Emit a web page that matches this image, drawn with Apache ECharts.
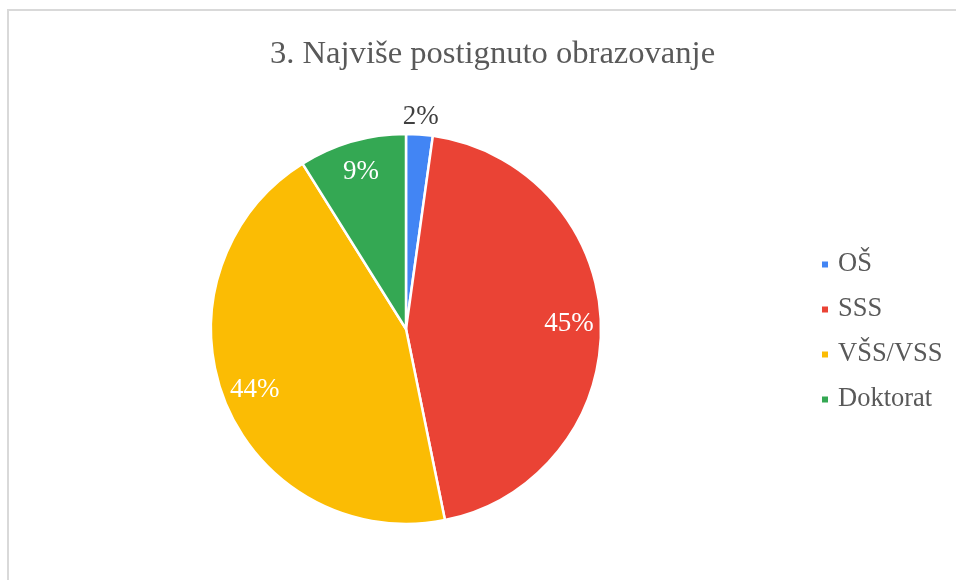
<!DOCTYPE html>
<html>
<head>
<meta charset="utf-8">
<title>3. Najviše postignuto obrazovanje</title>
<script src="https://cdn.jsdelivr.net/npm/echarts@6/dist/echarts.min.js"></script>
<style>
  html, body { margin: 0; padding: 0; background: #fff; }
  #frame { position: absolute; left: 7px; top: 9px; right: 0; bottom: 0;
           border-left: 2px solid #d9d9d9; border-top: 2px solid #d9d9d9; }
  #main { position: absolute; left: 0; top: 0; width: 956px; height: 580px; }
</style>
</head>
<body>
<div id="frame"></div>
<div id="main"></div>
<script>
// podaci
var categories = ['OŠ', 'SSS', 'VŠS/VSS', 'Doktorat'];
var shares = [2.2, 44.6, 44.3, 8.9];
var colors = ['#4285F4', '#EA4335', '#FBBC04', '#34A853'];

var font = "'Liberation Serif', 'Times New Roman', serif";
var center = [406, 329];

function pct(p) { return Math.round(p.percent) + '%'; }

var pieData = categories.map(function (name, i) {
    return { name: name, value: shares[i], itemStyle: { color: colors[i] } };
});

// prsten samo za natpise unutar kriški
var innerLabels = categories.map(function (name, i) {
    return { name: name, value: shares[i], label: { show: i !== 0 } };
});
// natpis za malu krišku (izvan)
var outerLabels = categories.map(function (name, i) {
    return { name: name, value: shares[i], label: { show: i === 0 } };
});

var myChart = echarts.init(document.getElementById('main'));
myChart.setOption({
    animation: false,
    title: {
        text: '3. Najviše postignuto obrazovanje',
        left: 265,
        top: 33,
        textStyle: { fontFamily: font, fontSize: 32.6, fontWeight: 'normal', color: '#595959' }
    },
    legend: {
        orient: 'vertical',
        left: 815,
        top: 246,
        itemWidth: 8,
        itemHeight: 8,
        itemGap: 18,
        icon: 'rect',
        data: categories,
        textStyle: { fontFamily: font, fontSize: 26.5, color: '#595959', lineHeight: 26, padding: [0, 0, 0, 4] }
    },
    series: [{
        type: 'pie',
        center: center,
        radius: 195,
        data: pieData,
        label: { show: false },
        labelLine: { show: false },
        itemStyle: { borderColor: '#fff', borderWidth: 2.5 },
        emphasis: { disabled: true }
    }, {
        type: 'pie',
        silent: true,
        center: center,
        radius: [125, 195],
        data: innerLabels,
        itemStyle: { color: 'transparent' },
        label: { position: 'inside', formatter: pct, fontFamily: font, fontSize: 27, color: '#fff' },
        labelLine: { show: false },
        emphasis: { disabled: true }
    }, {
        type: 'pie',
        silent: true,
        center: center,
        radius: [200, 220],
        data: outerLabels,
        itemStyle: { color: 'transparent' },
        label: { position: 'inside', formatter: pct, fontFamily: font, fontSize: 27, color: '#404040' },
        labelLine: { show: false },
        emphasis: { disabled: true }
    }]
});
</script>
</body>
</html>
